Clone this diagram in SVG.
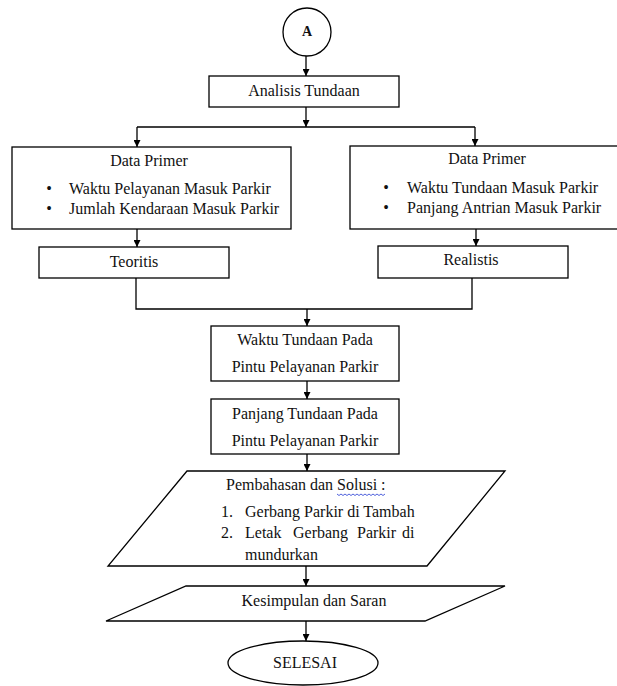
<svg xmlns="http://www.w3.org/2000/svg" width="617" height="686" viewBox="0 0 617 686">
  <style>
    .shape { fill: #ffffff; stroke: #000000; stroke-width: 1.3; }
    .conn { fill: none; stroke: #000000; stroke-width: 1.3; }
    .t { font-family: "Liberation Serif", "Times New Roman", serif; font-size: 16px; fill: #111111; }
    .c { text-anchor: middle; }
    .wavy { fill: none; stroke: #3b4fd8; stroke-width: 0.9; }
  </style>
  <defs>
    <marker id="ah" viewBox="0 0 8 8" markerWidth="7" markerHeight="7" refX="8" refY="4" orient="auto" markerUnits="userSpaceOnUse">
      <path d="M0,0 L8,4 L0,8 z" fill="#000000"/>
    </marker>
  </defs>
  <rect width="617" height="686" fill="#ffffff"/>

  <g id="connectors">
    <path class="conn" d="M306,56 V76" marker-end="url(#ah)"/>
    <path class="conn" d="M306,107 V127" marker-end="url(#ah)"/>
    <path class="conn" d="M137,127 H475"/>
    <path class="conn" d="M137,127 V147" marker-end="url(#ah)"/>
    <path class="conn" d="M475,127 V146" marker-end="url(#ah)"/>
    <path class="conn" d="M137,229 V247" marker-end="url(#ah)"/>
    <path class="conn" d="M476,229 V246" marker-end="url(#ah)"/>
    <path class="conn" d="M136,278 V309 H472 V278"/>
    <path class="conn" d="M307,309 V326" marker-end="url(#ah)"/>
    <path class="conn" d="M307,381 V399" marker-end="url(#ah)"/>
    <path class="conn" d="M307,454 V471" marker-end="url(#ah)"/>
    <path class="conn" d="M306,566 V586" marker-end="url(#ah)"/>
    <path class="conn" d="M306,621 V641" marker-end="url(#ah)"/>
  </g>

  <g id="start">
    <circle class="shape" cx="307" cy="32" r="24"/>
    <text class="t c" x="307" y="36" style="font-size:14px;font-weight:bold">A</text>
  </g>

  <g id="analisis">
    <rect class="shape" x="209" y="76" width="190" height="31"/>
    <text class="t c" x="304" y="96">Analisis Tundaan</text>
  </g>

  <g id="data-primer-left">
    <rect class="shape" x="12" y="147" width="279" height="82"/>
    <text class="t c" x="149" y="166">Data Primer</text>
    <text class="t c" x="49" y="194">•</text>
    <text class="t" x="69" y="194">Waktu Pelayanan Masuk Parkir</text>
    <text class="t c" x="49" y="214">•</text>
    <text class="t" x="69" y="214">Jumlah Kendaraan Masuk Parkir</text>
  </g>

  <g id="data-primer-right">
    <rect class="shape" x="350" y="146" width="275" height="83"/>
    <text class="t c" x="487" y="164">Data Primer</text>
    <text class="t c" x="386" y="193">•</text>
    <text class="t" x="407" y="193">Waktu Tundaan Masuk Parkir</text>
    <text class="t c" x="386" y="213">•</text>
    <text class="t" x="407" y="213">Panjang Antrian Masuk Parkir</text>
  </g>

  <g id="teoritis">
    <rect class="shape" x="39" y="247" width="190" height="31"/>
    <text class="t c" x="134" y="267">Teoritis</text>
  </g>

  <g id="realistis">
    <rect class="shape" x="378" y="246" width="190" height="32"/>
    <text class="t c" x="471" y="265">Realistis</text>
  </g>

  <g id="waktu-tundaan">
    <rect class="shape" x="211" y="326" width="188" height="55"/>
    <text class="t c" x="305" y="345">Waktu Tundaan Pada</text>
    <text class="t c" x="305" y="372">Pintu Pelayanan Parkir</text>
  </g>

  <g id="panjang-tundaan">
    <rect class="shape" x="211" y="399" width="188" height="55"/>
    <text class="t c" x="305" y="419">Panjang Tundaan Pada</text>
    <text class="t c" x="305" y="446">Pintu Pelayanan Parkir</text>
  </g>

  <g id="pembahasan">
    <polygon class="shape" points="187,471 505,471 427,566 108,566"/>
    <text class="t" x="226" y="490">Pembahasan dan Solusi :</text>
    <path class="wavy" d="M337,494 l2,1.5 l2,-1.5 l2,1.5 l2,-1.5 l2,1.5 l2,-1.5 l2,1.5 l2,-1.5 l2,1.5 l2,-1.5 l2,1.5 l2,-1.5 l2,1.5 l2,-1.5 l2,1.5 l2,-1.5 l2,1.5 l2,-1.5 l2,1.5 l2,-1.5 l2,1.5 l2,-1.5 l2,1.5 l2,-1.5"/>
    <text class="t" x="221" y="517">1.</text>
    <text class="t" x="245" y="517">Gerbang Parkir di Tambah</text>
    <text class="t" x="221" y="538">2.</text>
    <text class="t" y="538"><tspan x="245">Letak</tspan><tspan x="293">Gerbang</tspan><tspan x="357">Parkir</tspan><tspan x="402">di</tspan></text>
    <text class="t" x="245" y="560">mundurkan</text>
  </g>

  <g id="kesimpulan">
    <polygon class="shape" points="186,586 505,586 425,621 106,621"/>
    <text class="t c" x="314" y="606">Kesimpulan dan Saran</text>
  </g>

  <g id="selesai">
    <ellipse class="shape" cx="303" cy="663" rx="75" ry="22"/>
    <text class="t c" x="305" y="668">SELESAI</text>
  </g>
</svg>
